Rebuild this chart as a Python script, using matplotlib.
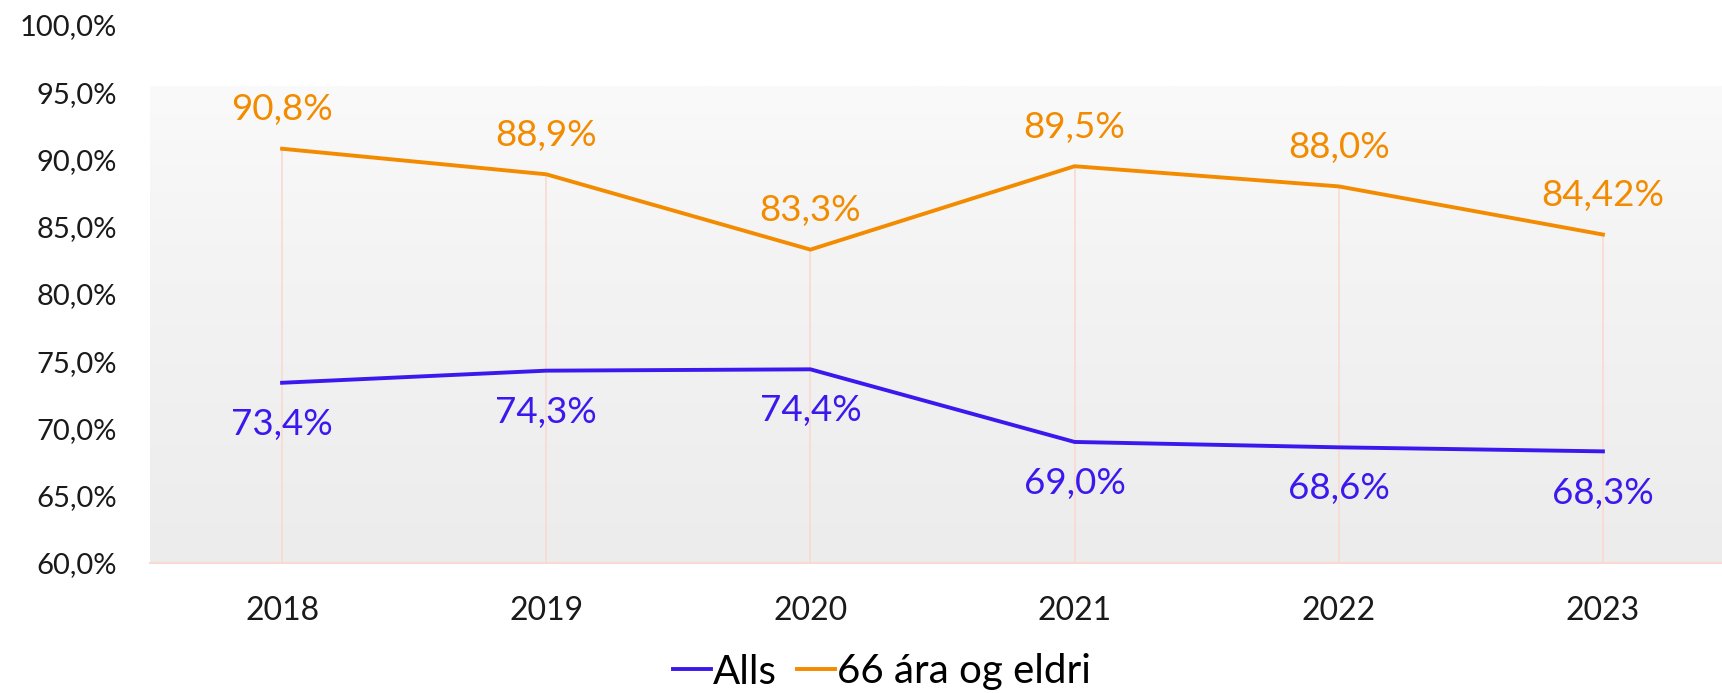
import matplotlib.pyplot as plt
import numpy as np
from matplotlib.colors import LinearSegmentedColormap

plt.rcParams['font.family'] = ['Lato', 'DejaVu Sans']

years = ['2018', '2019', '2020', '2021', '2022', '2023']
alls = [73.4, 74.3, 74.4, 69.0, 68.6, 68.3]
eldri = [90.8, 88.9, 83.3, 89.5, 88.0, 84.42]
alls_labels = ['73,4%', '74,3%', '74,4%', '69,0%', '68,6%', '68,3%']
eldri_labels = ['90,8%', '88,9%', '83,3%', '89,5%', '88,0%', '84,42%']
yticks = [60, 65, 70, 75, 80, 85, 90, 95, 100]

blue = '#3B18EE'
orange = '#F38B00'
grid_c = '#F8DAD2'

fig = plt.figure(figsize=(17.22, 6.93), dpi=100)
ax = fig.add_axes([150 / 1722, 130 / 693, 1585 / 1722, 538 / 693])

x = np.arange(len(years))
ax.set_xlim(-0.5, 5.5)
ax.set_ylim(60, 100)

# soft gray gradient behind the lines
cmap = LinearSegmentedColormap.from_list('bg', ['#ececec', '#f0f0f0', '#f4f4f4', '#fafafa'])
grad = np.linspace(0, 1, 256).reshape(-1, 1)
ax.imshow(grad, extent=(-0.5, 5.5, 60, 95.4), origin='lower', aspect='auto',
          cmap=cmap, zorder=0)

# drop lines from the top series down to the axis
ax.vlines(x, 60, np.maximum(alls, eldri), color=grid_c, lw=1.2, zorder=1)

ax.plot(x, alls, color=blue, lw=2.8, label='Alls', zorder=3)
ax.plot(x, eldri, color=orange, lw=2.8, label='66 ára og eldri', zorder=3)

for xi, v, t in zip(x, eldri, eldri_labels):
    ax.annotate(t, (xi, v), xytext=(0, 28), textcoords='offset points',
                ha='center', va='center', fontsize=26.5, color=orange)
for xi, v, t in zip(x, alls, alls_labels):
    ax.annotate(t, (xi, v), xytext=(0, -30), textcoords='offset points',
                ha='center', va='center', fontsize=26.5, color=blue)

ax.set_xticks(x)
ax.set_xticklabels(years)
ax.set_yticks(yticks)
ax.set_yticklabels([f'{v:.1f}%'.replace('.', ',') for v in yticks])
ax.tick_params(axis='x', length=0, pad=24, labelsize=23, colors='#1a1a1a')
ax.tick_params(axis='y', length=0, pad=24, labelsize=21, colors='#1a1a1a')

for s in ['top', 'right', 'left']:
    ax.spines[s].set_visible(False)
ax.spines['bottom'].set_color(grid_c)
ax.spines['bottom'].set_linewidth(1.5)

fig.legend(loc='center', bbox_to_anchor=(882 / 1722, 1 - 672 / 693), ncol=2,
           frameon=False, fontsize=29, handlelength=0.95, handletextpad=0.05,
           columnspacing=0.5)

fig.savefig('out.png', dpi=100)
